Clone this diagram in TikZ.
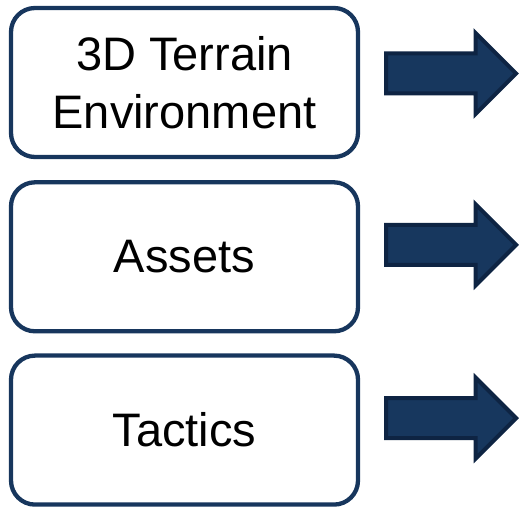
\documentclass[tikz,border=0pt]{standalone}
\usepackage{fontspec}
\setmainfont{Liberation Sans}
\usepackage{tikz}
\usetikzlibrary{shapes.arrows, positioning}
\usepackage{xcolor}
\definecolor{boxNavy}{HTML}{17365D}
\definecolor{arrowNavy}{HTML}{17375E}
\definecolor{arrowEdge}{HTML}{0E2443}

\begin{document}
\begin{tikzpicture}[
    x=1pt, y=1pt,
    node distance=21pt,
    box/.style={rectangle, draw=boxNavy, line width=4.3pt, rounded corners=24pt, minimum width=347pt, minimum height=149pt, align=center, font=\fontsize{47}{58}\selectfont},
    blockarrow/.style={single arrow, draw=arrowEdge, fill=arrowNavy, line width=4pt, minimum height=130pt, minimum width=77pt, single arrow head extend=20.5pt, inner xsep=0pt, inner ysep=18pt},
]
    \useasboundingbox (0,0) rectangle (520,509);
    \node[box] (terrain) at (184.5,426.5) {3D Terrain\\Environment};
    \node[box, below=of terrain] (assets) {Assets};
    \node[box, below=20pt of assets] (tactics) {Tactics};
    \node[blockarrow, right=24pt of terrain, yshift=9pt] (terrainOut) {};
    \node[blockarrow, right=24pt of assets, yshift=12pt] (assetsOut) {};
    \node[blockarrow, right=24pt of tactics, yshift=12pt] (tacticsOut) {};
\end{tikzpicture}
\end{document}
